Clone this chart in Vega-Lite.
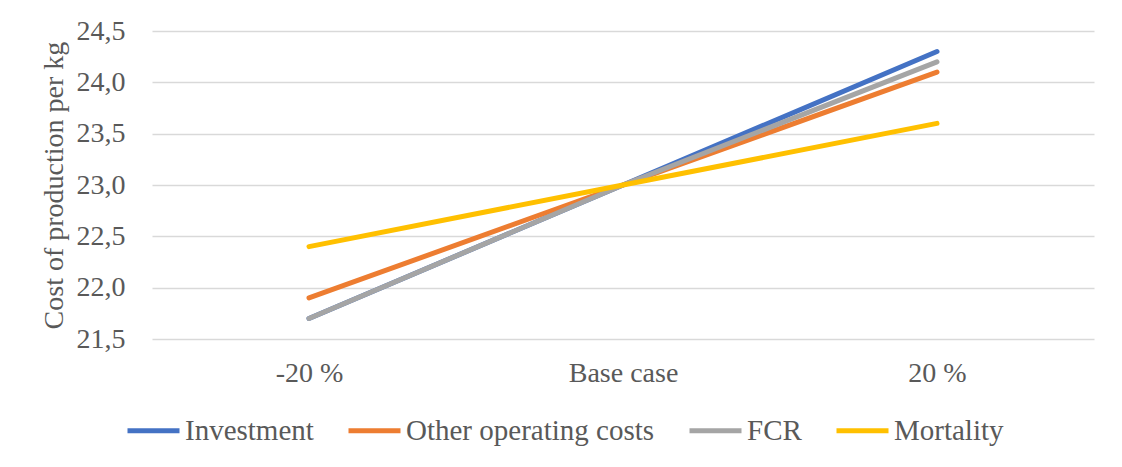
{
  "$schema": "https://vega.github.io/schema/vega-lite/v6.json",
  "width": 942,
  "height": 308,
  "autosize": {"type": "none"},
  "padding": {"left": 152, "top": 31, "right": 28, "bottom": 128},
  "background": "#ffffff",
  "config": {
    "view": {"stroke": null},
    "font": "Liberation Serif"
  },
  "data": {
    "values": [
      {"scenario": "-20 %", "series": "Investment", "cost": 21.7},
      {"scenario": "Base case", "series": "Investment", "cost": 23.0},
      {"scenario": "20 %", "series": "Investment", "cost": 24.3},
      {"scenario": "-20 %", "series": "Other operating costs", "cost": 21.9},
      {"scenario": "Base case", "series": "Other operating costs", "cost": 23.0},
      {"scenario": "20 %", "series": "Other operating costs", "cost": 24.1},
      {"scenario": "-20 %", "series": "FCR", "cost": 21.7},
      {"scenario": "Base case", "series": "FCR", "cost": 23.0},
      {"scenario": "20 %", "series": "FCR", "cost": 24.2},
      {"scenario": "-20 %", "series": "Mortality", "cost": 22.4},
      {"scenario": "Base case", "series": "Mortality", "cost": 23.0},
      {"scenario": "20 %", "series": "Mortality", "cost": 23.6}
    ]
  },
  "mark": {"type": "line", "strokeWidth": 5, "strokeCap": "round", "strokeJoin": "round"},
  "encoding": {
    "x": {
      "field": "scenario",
      "type": "nominal",
      "sort": ["-20 %", "Base case", "20 %"],
      "scale": {"type": "point", "padding": 0.5},
      "axis": {
        "title": null,
        "labelAngle": 0,
        "ticks": false,
        "domain": false,
        "grid": false,
        "labelFont": "Liberation Serif",
        "labelFontSize": 28,
        "labelColor": "#595959",
        "labelPadding": 20
      }
    },
    "y": {
      "field": "cost",
      "type": "quantitative",
      "scale": {"domain": [21.5, 24.5], "zero": false, "nice": false},
      "axis": {
        "title": "Cost of production per kg",
        "values": [21.5, 22, 22.5, 23, 23.5, 24, 24.5],
        "labelExpr": "replace(format(datum.value, '.1f'), '.', ',')",
        "ticks": false,
        "domain": false,
        "gridColor": "#d9d9d9",
        "gridWidth": 1.5,
        "labelFont": "Liberation Serif",
        "labelFontSize": 28,
        "labelColor": "#595959",
        "labelPadding": 27,
        "titleFont": "Liberation Serif",
        "titleFontSize": 28,
        "titleFontWeight": "normal",
        "titleColor": "#595959",
        "titlePadding": 8
      }
    },
    "color": {
      "field": "series",
      "type": "nominal",
      "scale": {
        "domain": ["Investment", "Other operating costs", "FCR", "Mortality"],
        "range": ["#4472C4", "#ED7D31", "#A5A5A5", "#FFC000"]
      },
      "legend": {
        "title": null,
        "orient": "none",
        "direction": "horizontal",
        "legendX": -27,
        "legendY": 371,
        "symbolType": "stroke",
        "symbolSize": 2704,
        "symbolStrokeWidth": 5,
        "labelFont": "Liberation Serif",
        "labelFontSize": 29,
        "labelColor": "#595959",
        "labelOffset": 3,
        "columnPadding": 24,
        "labelLimit": 400
      }
    }
  }
}
